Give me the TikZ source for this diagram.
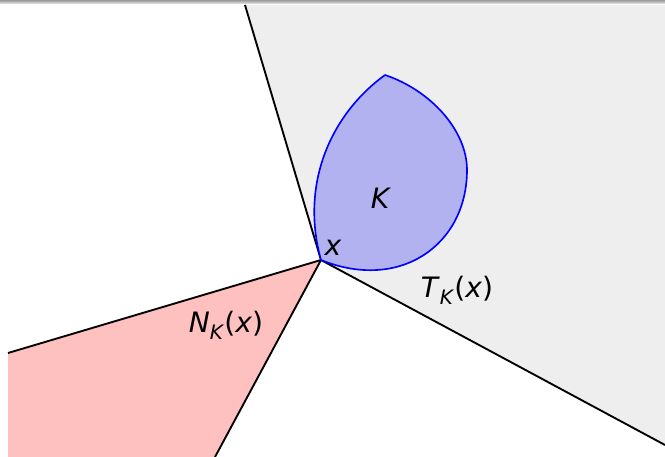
\documentclass[tikz,border=0pt]{standalone}
\usepackage{fontspec}
\setmainfont{DejaVu Sans}
\definecolor{conegray}{RGB}{238,238,238}
\definecolor{normred}{RGB}{255,192,192}
\definecolor{setblue}{RGB}{178,178,240}
\newcommand{\lab}[2]{\textit{#1}\raisebox{-0.25em}{\fontsize{17}{20}\selectfont\textit{#2}}(\textit{x})}

\begin{document}
\begin{tikzpicture}[x=0.03cm, y=-0.03cm, font=\fontsize{24}{28}\selectfont,
  ray/.style={draw=black, line width=1.6pt},
  lbl/.style={inner sep=0pt, anchor=center}]
\useasboundingbox (0,0) rectangle (665,457);

% the thin shaded strip along the top edge
\shade[top color=black!40, bottom color=black!8] (0,0) rectangle (665,4);

\coordinate (x)    at (321,260);
\coordinate (tTop) at (245,5);
\coordinate (tRgt) at (665,445);
\coordinate (nLft) at (8,353);
\coordinate (nBot) at (215,457);

% tangent cone and normal cone, cut off at the frame
\fill[conegray] (tTop) -- (x) -- (tRgt) -- (665,5) -- cycle;
\fill[normred]  (nLft) -- (x) -- (nBot) -- (8,457) -- cycle;
\draw[ray] (tTop) -- (x) -- (tRgt);
\draw[ray] (nLft) -- (x) -- (nBot);

% the convex set, touching the corner at x
\coordinate (kTop) at (385,75);
\coordinate (kRgt) at (467,170);
\filldraw[fill=setblue, draw=blue, line width=1.4pt, line join=round]
  (x) .. controls (300,185) and (330,115) .. (kTop)
      .. controls (430,90) and (467,130) .. (kRgt)
      .. controls (467,245) and (400,292) .. (x) -- cycle;

\node[lbl] (kLbl) at (381,198) {\textit{K}};
\node[lbl] (xLbl) at (333,248) {\textit{x}};
\node[lbl] (tLbl) at (457,290) {\lab{T}{K}};
\node[lbl] (nLbl) at (226,325) {\lab{N}{K}};
\end{tikzpicture}
\end{document}
